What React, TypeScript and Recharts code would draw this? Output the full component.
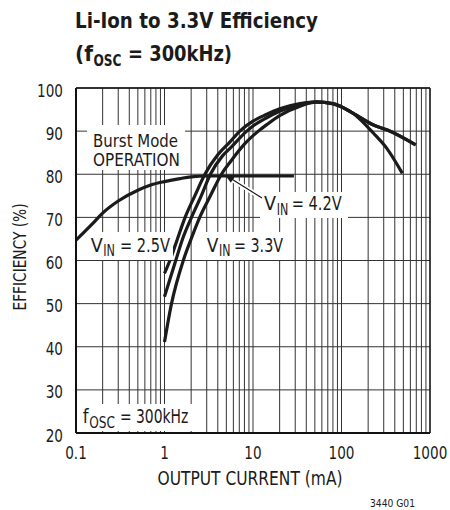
import { LineChart, Line, XAxis, YAxis, CartesianGrid, ReferenceLine } from "recharts";

// log grid positions on the current axis (mA)
const gridX = [
  0.1, 0.2, 0.3, 0.4, 0.5, 0.6, 0.7, 0.8, 0.9,
  1, 2, 3, 4, 5, 6, 7, 8, 9,
  10, 20, 30, 40, 50, 60, 70, 80, 90,
  100, 200, 300, 400, 500, 600, 700, 800, 900,
  1000,
];
const decadeLabels = [0.1, 1, 10, 100, 1000];
const yTicks = [20, 30, 40, 50, 60, 70, 80, 90, 100];

// Burst Mode operation
const burst = [
  { x: 0.1, y: 64.7 },
  { x: 0.15, y: 68.3 },
  { x: 0.2, y: 71 },
  { x: 0.3, y: 73.8 },
  { x: 0.5, y: 76.3 },
  { x: 0.7, y: 77.5 },
  { x: 1, y: 78.3 },
  { x: 1.5, y: 79 },
  { x: 2, y: 79.4 },
  { x: 3, y: 79.6 },
  { x: 29, y: 79.6 },
];

// VIN = 2.5V
const vin25 = [
  { x: 1, y: 57 },
  { x: 1.15, y: 60 },
  { x: 1.4, y: 65 },
  { x: 1.71, y: 70 },
  { x: 2.2, y: 75 },
  { x: 2.86, y: 80 },
  { x: 4, y: 84.5 },
  { x: 5.5, y: 87.5 },
  { x: 7.1, y: 90 },
  { x: 10, y: 92.3 },
  { x: 14.3, y: 93.9 },
  { x: 20, y: 95.2 },
  { x: 34, y: 96.4 },
  { x: 52, y: 96.8 },
  { x: 80, y: 96.3 },
  { x: 136, y: 94.1 },
  { x: 230, y: 89.5 },
  { x: 325, y: 86 },
  { x: 487, y: 80.2 },
];

// VIN = 3.3V
const vin33 = [
  { x: 1, y: 51.6 },
  { x: 1.34, y: 60 },
  { x: 1.6, y: 65 },
  { x: 2.02, y: 70 },
  { x: 2.6, y: 75 },
  { x: 3.3, y: 80 },
  { x: 4.5, y: 84.2 },
  { x: 5.5, y: 86 },
  { x: 8.5, y: 90 },
  { x: 10, y: 91.2 },
  { x: 14.3, y: 93.1 },
  { x: 20, y: 94.6 },
  { x: 34, y: 96.2 },
  { x: 52, y: 96.8 },
  { x: 80, y: 96.4 },
  { x: 136, y: 94.1 },
  { x: 230, y: 91.4 },
  { x: 325, y: 90.3 },
  { x: 689, y: 86.8 },
];

// VIN = 4.2V
const vin42 = [
  { x: 1, y: 41.1 },
  { x: 1.2, y: 50 },
  { x: 1.63, y: 60 },
  { x: 2, y: 65 },
  { x: 2.5, y: 70 },
  { x: 3.3, y: 75 },
  { x: 4.4, y: 80 },
  { x: 5.5, y: 82.8 },
  { x: 8, y: 87 },
  { x: 11.5, y: 90 },
  { x: 14.3, y: 91.5 },
  { x: 20, y: 93.6 },
  { x: 34, y: 95.8 },
  { x: 52, y: 96.7 },
  { x: 80, y: 96.4 },
  { x: 136, y: 94.1 },
  { x: 230, y: 91.4 },
  { x: 325, y: 90.3 },
  { x: 689, y: 86.8 },
];

const series = [burst, vin25, vin33, vin42];

const font = "'DejaVu Sans Condensed', 'DejaVu Sans', sans-serif";
const ink = "#1b1b1b";
const squeeze = 0.84;

const isDecade = (v: number) => decadeLabels.some((d) => Math.abs(d - v) < 1e-9);

function XTick(props: any) {
  const { x, y, payload } = props;
  if (!isDecade(payload.value)) return null;
  return (
    <g transform={`translate(${x},${y}) scale(${squeeze},1)`}>
      <text x={0} y={0} dy={14} textAnchor="middle" fontSize={18} fill={ink} fontFamily={font}>
        {String(payload.value)}
      </text>
    </g>
  );
}

function YTick(props: any) {
  const { x, y, payload } = props;
  return (
    <g transform={`translate(${x},${y}) scale(${squeeze},1)`}>
      <text x={0} y={0} dy={8.6} textAnchor="end" fontSize={18} fill={ink} fontFamily={font}>
        {String(payload.value)}
      </text>
    </g>
  );
}

// text squeezed to a measured span [x0, x1]
function Fit(p: { x0: number; x1: number; y: number; size: number; bold?: boolean; children: string }) {
  return (
    <text
      x={p.x0}
      y={p.y}
      fontSize={p.size}
      fontWeight={p.bold ? "bold" : "normal"}
      textLength={p.x1 - p.x0}
      lengthAdjust="spacingAndGlyphs"
    >
      {p.children}
    </text>
  );
}

export default function App() {
  return (
    <div style={{ position: "absolute", left: 0, top: 0, width: 450, height: 510, background: "#fff", fontFamily: font }}>
      <LineChart width={450} height={510} margin={{ top: 88, right: 20, bottom: 47, left: 16 }}>
        <CartesianGrid stroke="#333" strokeWidth={1} />
        <XAxis
          dataKey="x"
          type="number"
          scale="log"
          domain={[0.1, 1000]}
          ticks={gridX}
          allowDataOverflow
          interval={0}
          tickLine={false}
          tickSize={6}
          tickMargin={6}
          tick={<XTick />}
          axisLine={{ stroke: "#111", strokeWidth: 2 }}
          height={30}
        />
        <YAxis
          type="number"
          domain={[20, 100]}
          ticks={yTicks}
          interval={0}
          tickLine={false}
          tickSize={6}
          tickMargin={7}
          tick={<YTick />}
          axisLine={{ stroke: "#111", strokeWidth: 2 }}
          width={60}
        />
        <ReferenceLine y={100} stroke="#111" strokeWidth={1.3} />
        <ReferenceLine x={1000} stroke="#111" strokeWidth={1.3} />
        {series.map((d, i) => (
          <Line
            key={i}
            data={d}
            dataKey="y"
            type="monotone"
            stroke={ink}
            strokeWidth={3.2}
            dot={false}
            activeDot={false}
            isAnimationActive={false}
          />
        ))}
      </LineChart>

      <svg width={450} height={510} style={{ position: "absolute", left: 0, top: 0, pointerEvents: "none" }} fontFamily={font} fill={ink}>
        {/* title */}
        <Fit x0={75} x1={318} y={28} size={22} bold>Li-Ion to 3.3V Efficiency</Fit>
        <Fit x0={75} x1={93} y={61} size={22} bold>(f</Fit>
        <Fit x0={93.5} x1={121.5} y={66} size={16} bold>OSC</Fit>
        <Fit x0={128} x1={232} y={61} size={22} bold>= 300kHz)</Fit>

        {/* axis titles */}
        <text x={20} y={257} fontSize={17} textAnchor="middle" dy="0.35em" transform="rotate(-90 20 257)" textLength={107} lengthAdjust="spacingAndGlyphs">EFFICIENCY (%)</text>
        <text x={250} y={485} fontSize={19} textAnchor="middle" textLength={185} lengthAdjust="spacingAndGlyphs">OUTPUT CURRENT (mA)</text>
        <text x={415} y={507} fontSize={11} textAnchor="end" textLength={45} lengthAdjust="spacingAndGlyphs">3440 G01</text>

        {/* annotations */}
        <rect x={87} y={125} width={98} height={45} fill="#fff" />
        <Fit x0={93} x1={178} y={147} size={18}>Burst Mode</Fit>
        <Fit x0={93} x1={180} y={166} size={18}>OPERATION</Fit>

        <rect x={88} y={232} width={85} height={28} fill="#fff" />
        <Fit x0={90.7} x1={102.7} y={251.5} size={20}>V</Fit>
        <Fit x0={103.3} x1={115} y={256} size={15}>IN</Fit>
        <Fit x0={120} x1={170} y={251.5} size={20}>= 2.5V</Fit>

        <rect x={202} y={232} width={86} height={28} fill="#fff" />
        <Fit x0={206.7} x1={218.3} y={251.5} size={20}>V</Fit>
        <Fit x0={219} x1={230.5} y={256} size={15}>IN</Fit>
        <Fit x0={234} x1={283} y={251.5} size={20}>= 3.3V</Fit>

        <rect x={260} y={192} width={88} height={26} fill="#fff" />
        <Fit x0={264} x1={276} y={210} size={20}>V</Fit>
        <Fit x0={276.7} x1={288.3} y={214.5} size={15}>IN</Fit>
        <Fit x0={291.7} x1={341.7} y={210} size={20}>= 4.2V</Fit>

        <rect x={78} y={404} width={124} height={27} fill="#fff" />
        <Fit x0={82.7} x1={88.5} y={423} size={20}>f</Fit>
        <Fit x0={89.3} x1={115} y={427.5} size={15}>OSC</Fit>
        <Fit x0={120} x1={188.3} y={423} size={20}>= 300kHz</Fit>

        {/* pointer for VIN = 4.2V */}
        <line x1={262} y1={198} x2={233} y2={180} stroke="#fff" strokeWidth={5} />
        <line x1={262} y1={198} x2={230} y2={178} stroke={ink} strokeWidth={1.2} />
        <polygon points="225,175 234.5,176.8 230.8,182.7" fill={ink} />
      </svg>
    </div>
  );
}
